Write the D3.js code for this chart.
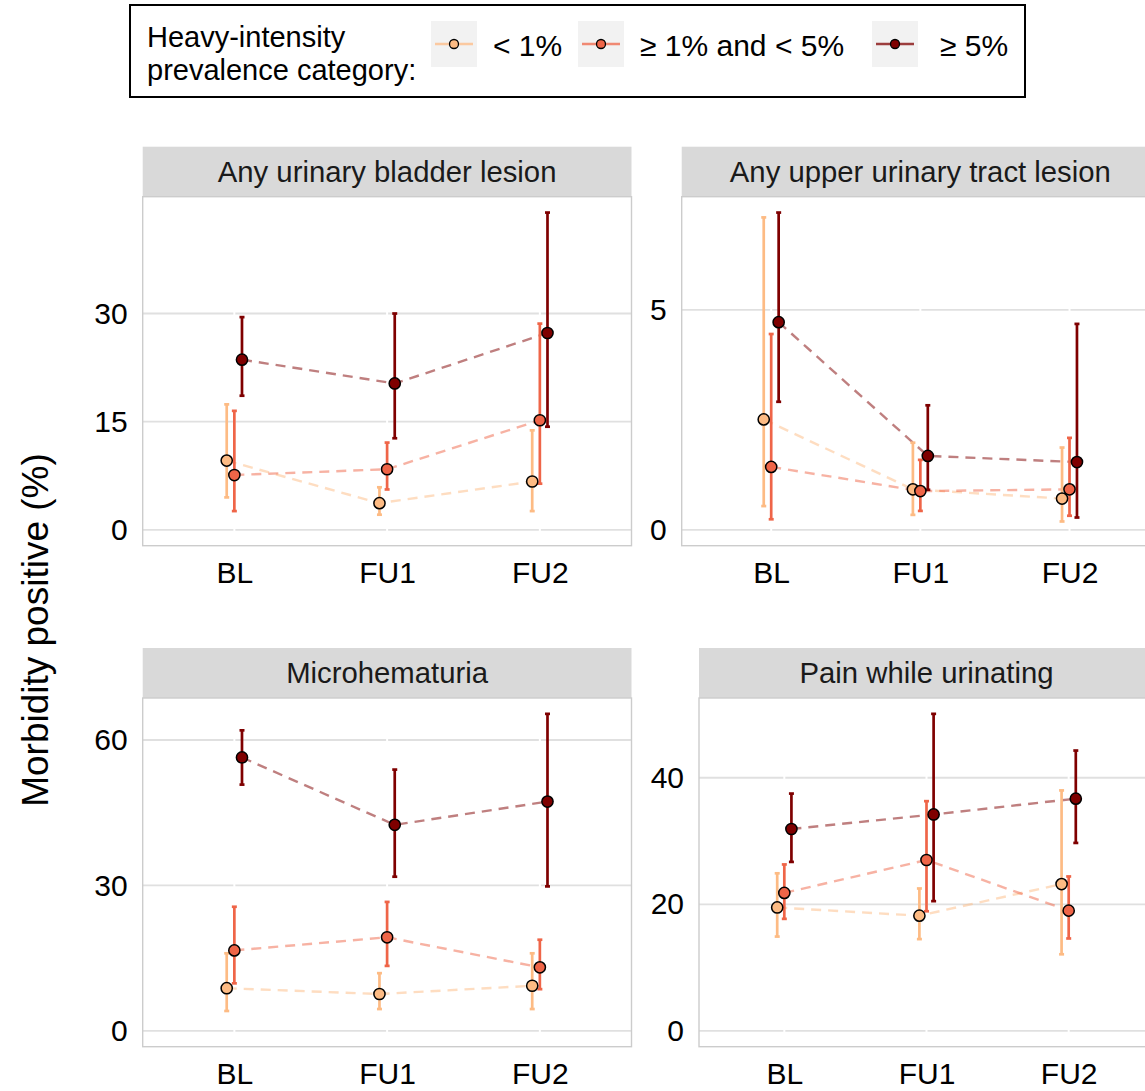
<!DOCTYPE html>
<html>
<head>
<meta charset="utf-8">
<script src="https://cdn.jsdelivr.net/npm/d3@7"></script>
<style>
  body { margin: 0; background: #fff; }
  text { font-family: Arial, 'Liberation Sans', sans-serif; }
</style>
</head>
<body>
<div id="chart"></div>
<script>
// Data
var timepoints = ['BL', 'FU1', 'FU2']
var categories = ['< 1%', '\u2265 1% and < 5%', '\u2265 5%']
var outcomes = [
  'Any urinary bladder lesion',
  'Any upper urinary tract lesion',
  'Microhematuria',
  'Pain while urinating'
]

// rows = category, columns = timepoint
var bladderEst = [[9.6, 3.7, 6.7], [7.6, 8.4, 15.2], [23.6, 20.3, 27.3]]
var bladderLow = [[4.5, 2.1, 2.6], [2.6, 5.6, 6.4], [18.6, 12.7, 14.3]]
var bladderHigh = [[17.4, 5.9, 13.8], [16.5, 12.1, 28.6], [29.5, 30.0, 44.0]]

var upperEst = [[2.51, 0.92, 0.71], [1.43, 0.88, 0.92], [4.72, 1.68, 1.54]]
var upperLow = [[0.54, 0.34, 0.19], [0.24, 0.43, 0.32], [2.91, 0.91, 0.28]]
var upperHigh = [[7.1, 1.98, 1.87], [4.45, 1.59, 2.09], [7.21, 2.83, 4.68]]

var hemEst = [[8.8, 7.6, 9.3], [16.6, 19.3, 13.1], [56.4, 42.5, 47.3]]
var hemLow = [[4.1, 4.5, 4.5], [9.8, 13.4, 8.6], [50.8, 31.8, 29.8]]
var hemHigh = [[16.0, 11.9, 16.0], [25.6, 26.6, 18.8], [62.0, 53.9, 65.4]]

var painEst = [[19.5, 18.2, 23.2], [21.8, 27.0, 19.0], [31.9, 34.2, 36.7]]
var painLow = [[14.9, 14.5, 12.1], [17.7, 18.9, 14.6], [26.7, 20.5, 29.7]]
var painHigh = [[24.9, 22.5, 38.0], [26.3, 36.3, 24.4], [37.5, 50.1, 44.3]]

var yTicks = [[0, 15, 30], [0, 5], [0, 30, 60], [0, 20, 40]]

var estimates = [bladderEst, upperEst, hemEst, painEst]
var lows = [bladderLow, upperLow, hemLow, painLow]
var highs = [bladderHigh, upperHigh, hemHigh, painHigh]

var colors = ['#fdbb84', '#ef6548', '#7f0000']

// Panel boxes (the right column runs past the picture edge)
var panelBoxes = [
  { x0: 142.7, x1: 631.5, y0: 196.7, y1: 545.7 },
  { x0: 681.7, x1: 1159, y0: 196.7, y1: 545.7 },
  { x0: 142.7, x1: 631.5, y0: 698, y1: 1046.7 },
  { x0: 699, x1: 1154, y0: 698, y1: 1046.7 }
]
var stripHeight = 50

var width = 1145
var height = 1091

var svg = d3
  .select('#chart')
  .append('svg')
  .attr('width', width)
  .attr('height', height)

var colorScale = d3.scaleOrdinal().domain(categories).range(colors)

outcomes.forEach(function(outcome, i) {
  var box = panelBoxes[i]

  var xPositionScale = d3
    .scalePoint()
    .domain(timepoints)
    .range([box.x0, box.x1])
    .padding(0.6)

  // expand from 0 to the highest upper bound by 5% on each side
  var yMax = d3.max(highs[i], row => d3.max(row))
  var pad = yMax * 0.05
  var yPositionScale = d3
    .scaleLinear()
    .domain([-pad, yMax + pad])
    .range([box.y1, box.y0])

  var dodge = xPositionScale.step() * 0.05

  var points = []
  categories.forEach(function(cat, c) {
    timepoints.forEach(function(tp, t) {
      points.push({
        category: cat,
        index: c,
        time: tp,
        est: estimates[i][c][t],
        low: lows[i][c][t],
        high: highs[i][c][t]
      })
    })
  })
  var xOf = d => xPositionScale(d.time) + (d.index - 1) * dodge

  var g = svg.append('g').attr('class', 'panel')

  // strip
  g.append('rect')
    .attr('x', box.x0)
    .attr('y', box.y0 - stripHeight)
    .attr('width', box.x1 - box.x0)
    .attr('height', stripHeight)
    .attr('fill', '#d9d9d9')

  g.append('text')
    .attr('x', (box.x0 + box.x1) / 2)
    .attr('y', box.y0 - stripHeight / 2)
    .attr('dy', '0.35em')
    .attr('text-anchor', 'middle')
    .attr('font-size', 29.3)
    .attr('fill', '#1a1a1a')
    .text(outcome)

  // grid: grey horizontals, white verticals on top
  g.selectAll('.hgrid')
    .data(yTicks[i])
    .enter()
    .append('line')
    .attr('x1', box.x0)
    .attr('x2', box.x1)
    .attr('y1', d => yPositionScale(d))
    .attr('y2', d => yPositionScale(d))
    .attr('stroke', '#e0e0e0')
    .attr('stroke-width', 1.8)

  g.selectAll('.vgrid')
    .data(timepoints)
    .enter()
    .append('line')
    .attr('x1', d => xPositionScale(d))
    .attr('x2', d => xPositionScale(d))
    .attr('y1', box.y0)
    .attr('y2', box.y1)
    .attr('stroke', '#fff')
    .attr('stroke-width', 2)

  g.append('rect')
    .attr('x', box.x0)
    .attr('y', box.y0)
    .attr('width', box.x1 - box.x0)
    .attr('height', box.y1 - box.y0)
    .attr('fill', 'none')
    .attr('stroke', '#cccccc')
    .attr('stroke-width', 1.4)

  // axes
  var yAxis = d3
    .axisLeft(yPositionScale)
    .tickValues(yTicks[i])
    .tickSize(0)
    .tickPadding(15)
  g.append('g')
    .attr('class', 'axis y-axis')
    .attr('transform', `translate(${box.x0},0)`)
    .call(yAxis)

  var xAxis = d3.axisBottom(xPositionScale).tickSize(0).tickPadding(16)
  g.append('g')
    .attr('class', 'axis x-axis')
    .attr('transform', `translate(0,${box.y1})`)
    .call(xAxis)

  // dashed lines joining each category
  var line = d3
    .line()
    .x(xOf)
    .y(d => yPositionScale(d.est))

  g.selectAll('.trend')
    .data(categories)
    .enter()
    .append('path')
    .attr('class', 'trend')
    .attr('d', cat => line(points.filter(p => p.category === cat)))
    .attr('fill', 'none')
    .attr('stroke', cat => colorScale(cat))
    .attr('stroke-opacity', 0.5)
    .attr('stroke-width', 2.4)
    .attr('stroke-dasharray', '10,7')

  // error bars
  var bars = g
    .selectAll('.errbar')
    .data(points)
    .enter()
    .append('g')
    .attr('class', 'errbar')
    .attr('stroke', d => colorScale(d.category))
    .attr('stroke-width', 2.7)

  bars
    .append('line')
    .attr('x1', xOf)
    .attr('x2', xOf)
    .attr('y1', d => yPositionScale(d.low))
    .attr('y2', d => yPositionScale(d.high))
  bars
    .append('line')
    .attr('x1', d => xOf(d) - 2.5)
    .attr('x2', d => xOf(d) + 2.5)
    .attr('y1', d => yPositionScale(d.low))
    .attr('y2', d => yPositionScale(d.low))
  bars
    .append('line')
    .attr('x1', d => xOf(d) - 2.5)
    .attr('x2', d => xOf(d) + 2.5)
    .attr('y1', d => yPositionScale(d.high))
    .attr('y2', d => yPositionScale(d.high))

  // points
  g.selectAll('.pt')
    .data(points)
    .enter()
    .append('circle')
    .attr('class', 'pt')
    .attr('cx', xOf)
    .attr('cy', d => yPositionScale(d.est))
    .attr('r', 5.6)
    .attr('fill', d => colorScale(d.category))
    .attr('stroke', '#000')
    .attr('stroke-width', 1.5)
})

svg.selectAll('.axis path').remove()
svg
  .selectAll('.axis text')
  .attr('font-family', 'Arial, Liberation Sans, sans-serif')
  .attr('font-size', 30)
  .attr('fill', '#000')

// y axis title
svg
  .append('text')
  .attr('transform', 'translate(48,630) rotate(-90)')
  .attr('text-anchor', 'middle')
  .attr('font-size', 37)
  .text('Morbidity positive (%)')

// legend
var legend = svg.append('g').attr('class', 'legend')
legend
  .append('rect')
  .attr('x', 130)
  .attr('y', 5)
  .attr('width', 895)
  .attr('height', 92)
  .attr('fill', '#fff')
  .attr('stroke', '#000')
  .attr('stroke-width', 2)

legend
  .append('text')
  .attr('x', 147)
  .attr('y', 47)
  .attr('font-size', 29)
  .text('Heavy-intensity')
legend
  .append('text')
  .attr('x', 147)
  .attr('y', 80)
  .attr('font-size', 29)
  .text('prevalence category:')

var keyX = [431, 578, 872]
var keys = legend
  .selectAll('.key')
  .data(categories)
  .enter()
  .append('g')
  .attr('class', 'key')
  .attr('transform', (d, i) => `translate(${keyX[i]},21)`)

keys
  .append('rect')
  .attr('width', 46)
  .attr('height', 46)
  .attr('fill', '#f2f2f2')
keys
  .append('line')
  .attr('x1', 4)
  .attr('x2', 42)
  .attr('y1', 23)
  .attr('y2', 23)
  .attr('stroke', d => colorScale(d))
  .attr('stroke-opacity', 0.75)
  .attr('stroke-width', 2.5)
keys
  .append('circle')
  .attr('cx', 23)
  .attr('cy', 23)
  .attr('r', 4.5)
  .attr('fill', d => colorScale(d))
  .attr('stroke', '#000')
  .attr('stroke-width', 1.3)
keys
  .append('text')
  .attr('x', (d, i) => (i === 2 ? 68 : 62))
  .attr('y', 35)
  .attr('font-size', 30)
  .text(d => d)
</script>
</body>
</html>
